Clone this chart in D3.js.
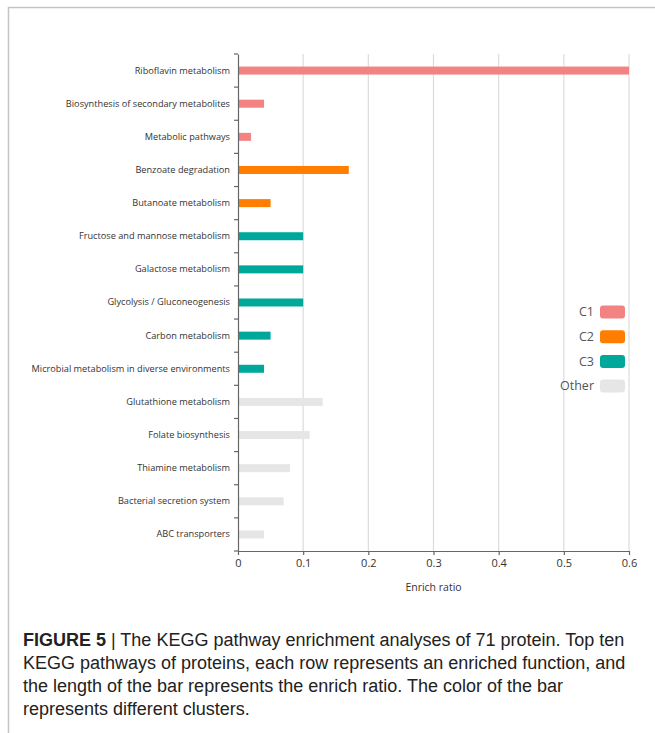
<!DOCTYPE html>
<html>
<head>
<meta charset="utf-8">
<script src="https://cdn.jsdelivr.net/npm/d3@7"></script>
<style>
body { margin: 0; background: #fff; }
#canvas { position: relative; width: 655px; height: 733px; }
</style>
</head>
<body>
<div id="canvas"></div>
<script>
var width = 655,
	height = 733;

// pathways, top to bottom
var pathways = [
	"Riboflavin metabolism",
	"Biosynthesis of secondary metabolites",
	"Metabolic pathways",
	"Benzoate degradation",
	"Butanoate metabolism",
	"Fructose and mannose metabolism",
	"Galactose metabolism",
	"Glycolysis / Gluconeogenesis",
	"Carbon metabolism",
	"Microbial metabolism in diverse environments",
	"Glutathione metabolism",
	"Folate biosynthesis",
	"Thiamine metabolism",
	"Bacterial secretion system",
	"ABC transporters"
];
var ratios = [0.6, 0.04, 0.02, 0.17, 0.05, 0.1, 0.1, 0.1, 0.05, 0.04, 0.13, 0.11, 0.08, 0.07, 0.04];
var clusters = ["C1", "C1", "C1", "C2", "C2", "C3", "C3", "C3", "C3", "C3", "Other", "Other", "Other", "Other", "Other"];

var clusterNames = ["C1", "C2", "C3", "Other"];
var clusterColors = ["#f38282", "#ff7d00", "#00a89c", "#e6e6e6"];
var xTicks = [0, 0.1, 0.2, 0.3, 0.4, 0.5, 0.6];

var captionLines = [
	["FIGURE 5", " | The KEGG pathway enrichment analyses of 71 protein. Top ten"],
	["", "KEGG pathways of proteins, each row represents an enriched function, and"],
	["", "the length of the bar represents the enrich ratio. The color of the bar"],
	["", "represents different clusters."]
];

var plotLeft = 238, plotRight = 629, plotTop = 54, plotBottom = 551;
var labelFont = "'Open Sans', 'Noto Sans', sans-serif";

var svg = d3.select("#canvas").append("svg")
	.attr("width", width)
	.attr("height", height)
	.style("background-color", "#fff")

// frame
svg.append("path")
	.attr("d", "M8.5," + height + "V7.5H" + width)
	.attr("fill", "none")
	.attr("stroke", "#c4c4c4")
	.attr("stroke-width", 1.5)

var x = d3.scaleLinear().domain([0, 0.6]).range([plotLeft, plotRight]);
var y = d3.scaleBand().domain(pathways).range([plotTop, plotBottom]);
var color = d3.scaleOrdinal().domain(clusterNames).range(clusterColors);

// grid
svg.selectAll(".grid")
	.data(xTicks.slice(1))
	.enter()
	.append("line")
	.classed("grid", true)
	.attr("x1", function(d){ return x(d); })
	.attr("x2", function(d){ return x(d); })
	.attr("y1", plotTop)
	.attr("y2", plotBottom)
	.attr("stroke", "#dcdcdc")
	.attr("stroke-width", 1.2)

// bars
var barH = 8;
svg.selectAll(".bar")
	.data(pathways)
	.enter()
	.append("rect")
	.classed("bar", true)
	.attr("x", x(0))
	.attr("y", function(d){ return y(d) + y.bandwidth()/2 - barH/2; })
	.attr("width", function(d, i){ return x(ratios[i]) - x(0); })
	.attr("height", barH)
	.attr("fill", function(d, i){ return color(clusters[i]); })

// y axis
var yAxis = svg.append("g")
	.attr("transform", "translate(" + plotLeft + ",0)")
	.call(d3.axisLeft(y).tickSize(0).tickPadding(8))
yAxis.select(".domain").attr("stroke", "#666").attr("stroke-width", 1.2)
yAxis.selectAll("text")
	.attr("font-family", labelFont)
	.attr("font-size", "9.2px")
	.attr("fill", "#333")
// band boundary ticks
yAxis.selectAll(".bticks")
	.data(d3.range(pathways.length + 1))
	.enter()
	.append("line")
	.attr("x1", -4)
	.attr("x2", 0)
	.attr("y1", function(i){ return plotTop + i * y.step(); })
	.attr("y2", function(i){ return plotTop + i * y.step(); })
	.attr("stroke", "#666")
	.attr("stroke-width", 1.2)

// x axis
var xAxis = svg.append("g")
	.attr("transform", "translate(0," + plotBottom + ")")
	.call(d3.axisBottom(x).tickValues(xTicks).tickFormat(d3.format("")).tickSize(4).tickSizeOuter(0).tickPadding(4))
xAxis.select(".domain").attr("stroke", "#666").attr("stroke-width", 1.2)
xAxis.selectAll("line").attr("stroke", "#666").attr("stroke-width", 1.2)
xAxis.selectAll("text")
	.attr("font-family", labelFont)
	.attr("font-size", "11px")
	.attr("fill", "#333")

svg.append("text")
	.attr("x", (plotLeft + plotRight) / 2)
	.attr("y", 591)
	.attr("text-anchor", "middle")
	.attr("font-family", labelFont)
	.attr("font-size", "10.5px")
	.attr("fill", "#333")
	.text("Enrich ratio")

// legend
var legend = svg.selectAll(".legend")
	.data(clusterNames)
	.enter()
	.append("g")
	.classed("legend", true)
	.attr("transform", function(d, i){ return "translate(0," + (312 + i * 24.7) + ")"; })

legend.append("rect")
	.attr("x", 600)
	.attr("y", -6.5)
	.attr("width", 25)
	.attr("height", 13)
	.attr("rx", 3)
	.attr("fill", function(d){ return color(d); })

legend.append("text")
	.attr("x", 594)
	.attr("dy", "0.35em")
	.attr("text-anchor", "end")
	.attr("font-family", labelFont)
	.attr("font-size", "12.5px")
	.attr("fill", "#555")
	.text(function(d){ return d; })

// caption
var caption = svg.selectAll(".caption")
	.data(captionLines)
	.enter()
	.append("text")
	.classed("caption", true)
	.attr("x", 23)
	.attr("y", function(d, i){ return 646 + i * 23; })
	.attr("font-family", "'Liberation Sans', Arial, sans-serif")
	.attr("font-size", "18px")
	.attr("fill", "#222")

caption.append("tspan")
	.attr("font-weight", "bold")
	.text(function(d){ return d[0]; })
caption.append("tspan")
	.text(function(d){ return d[1]; })
</script>
</body>
</html>
